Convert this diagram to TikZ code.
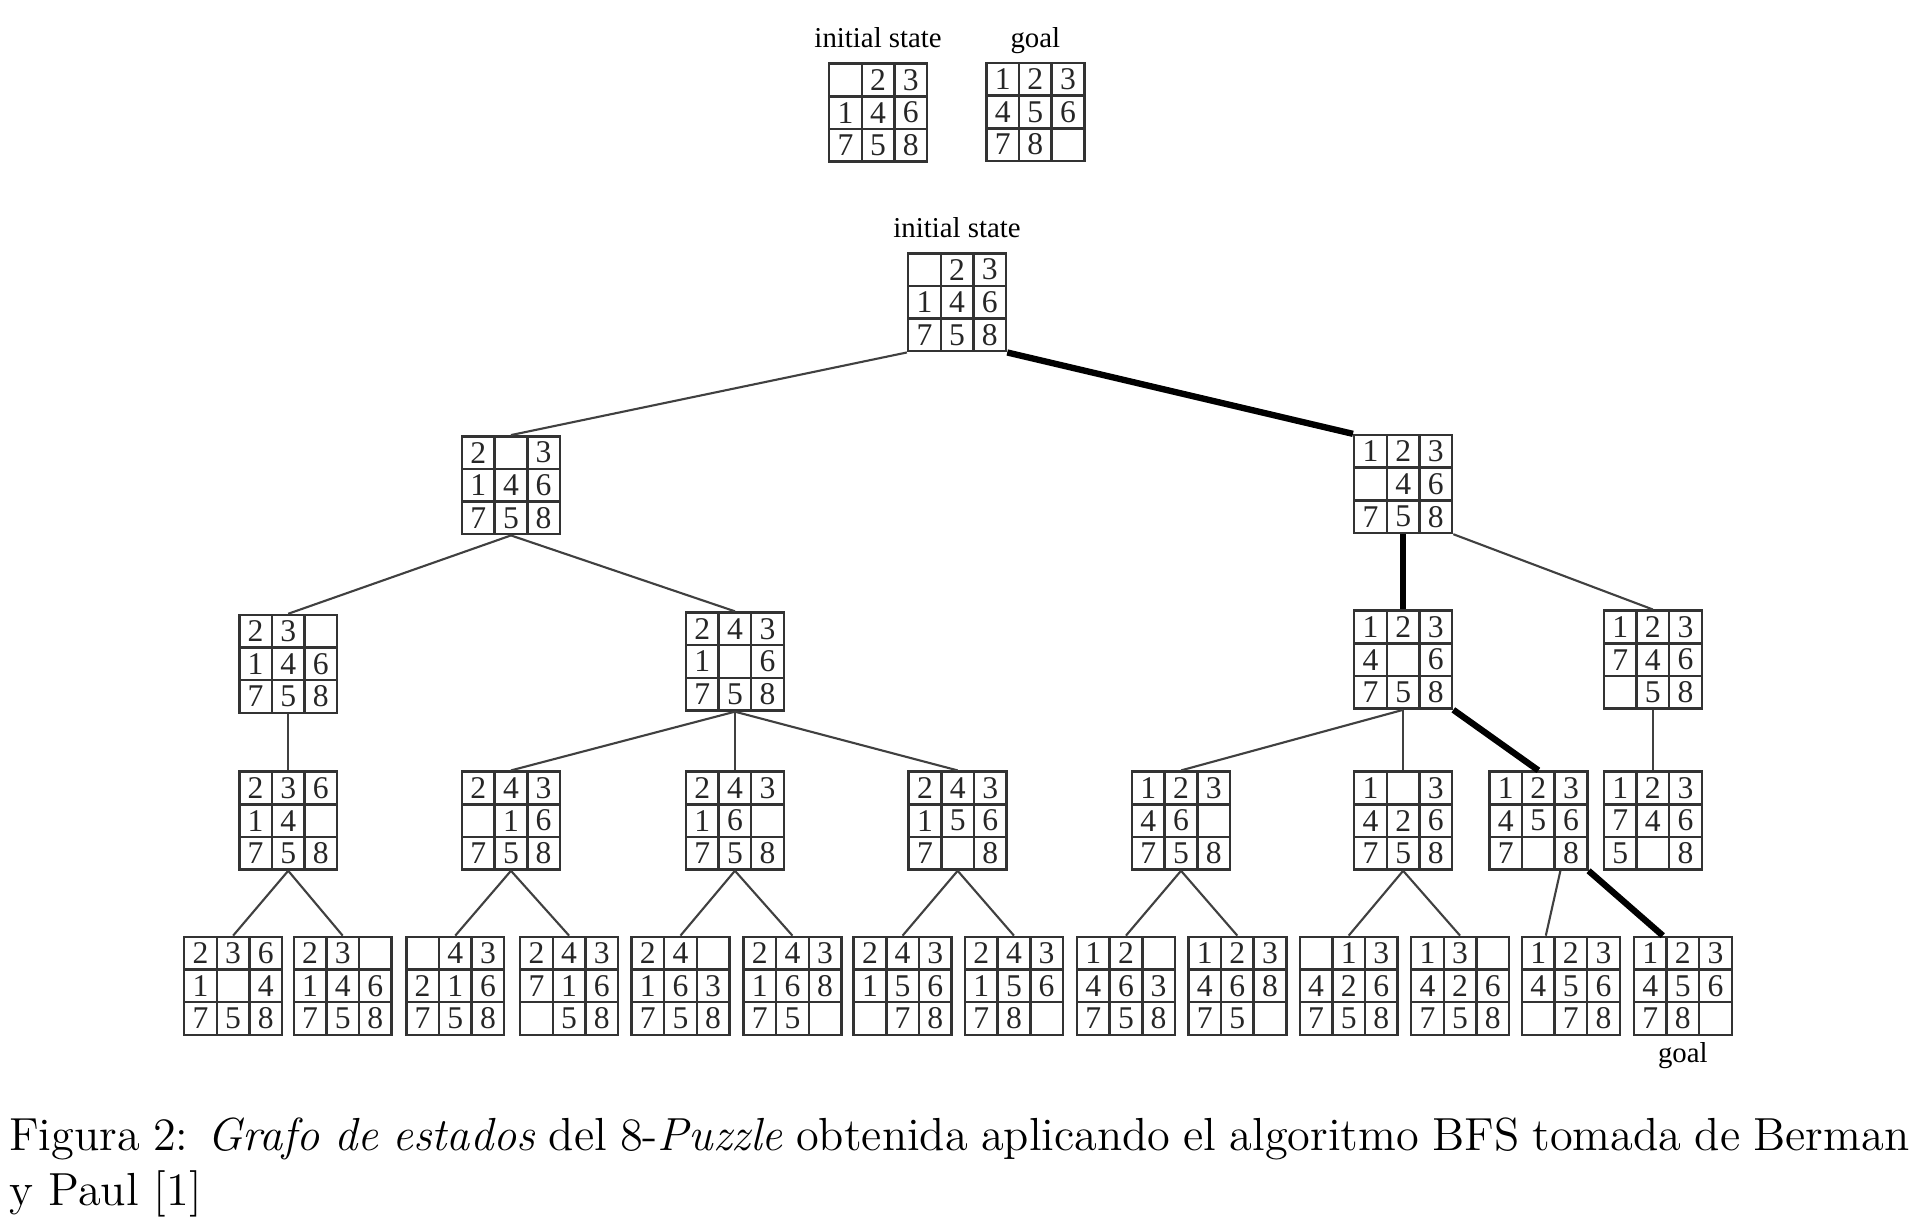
\documentclass[tikz,border=0pt]{standalone}
\usepackage{fontspec}
\usetikzlibrary{positioning}
\newfontfamily\puzzlefont{Liberation Serif}

\tikzset{
  board/.style={draw=black!80, line width=0.7pt, minimum size=9.79mm, inner sep=0pt},
  tile/.style={font=\puzzlefont\fontsize{9}{9}\selectfont, text=black!85, inner sep=0pt},
  link/.style={black!75, line width=0.6pt},
  solution/.style={black, line width=1.8pt},
  statelabel/.style={font=\puzzlefont\fontsize{8.2}{9}\selectfont, inner sep=0pt},
  captiontext/.style={font=\fontsize{13.2}{15.6}\selectfont, inner sep=0pt, anchor=base west}
}

% one 8-puzzle board: name, centre, the nine tiles row by row
\newcommand{\puzzleboard}[3]{%
  \node[board] (#1) at (#2) {};
  \begin{scope}[shift={(#1.center)}]
    \draw[black!80, line width=0.7pt] (-13.33,-40) -- (-13.33,40) (13.33,-40) -- (13.33,40)
      (-40,-13.33) -- (40,-13.33) (-40,13.33) -- (40,13.33);
    \foreach \t [count=\k from 0] in {#3}
      \node[tile] at ({(mod(\k,3)-1)*26.67},{(div(\k,3)-1)*26.67}) {\t};
  \end{scope}}

\begin{document}
\begin{tikzpicture}[x=0.12239mm, y=-0.12239mm]
    \useasboundingbox (0,0) rectangle (1568,1003);

    % initial state and goal
    \puzzleboard{I0}{717.5,92}{{},2,3,1,4,6,7,5,8}
    \puzzleboard{G0}{846,91.5}{1,2,3,4,5,6,7,8,{}}
    \node[statelabel, above=1.4mm of I0] (I0label) {initial state};
    \node[statelabel, anchor=base] (G0label) at (I0label.base -| G0.center) {goal};

    % root
    \puzzleboard{S}{782,247}{{},2,3,1,4,6,7,5,8}
    \node[statelabel, above=1.4mm of S] (Slabel) {initial state};

    % level 1
    \puzzleboard{S1}{417.5,396.5}{2,{},3,1,4,6,7,5,8}
    \puzzleboard{S2}{1146.5,395.5}{1,2,3,{},4,6,7,5,8}

    % level 2
    \puzzleboard{S11}{235.5,542.5}{2,3,{},1,4,6,7,5,8}
    \puzzleboard{S12}{600.5,540.5}{2,4,3,1,{},6,7,5,8}
    \puzzleboard{S21}{1146.5,539}{1,2,3,4,{},6,7,5,8}
    \puzzleboard{S22}{1350.5,539}{1,2,3,7,4,6,{},5,8}

    % level 3
    \puzzleboard{S111}{235.5,670.5}{2,3,6,1,4,{},7,5,8}
    \puzzleboard{S121}{417.5,670.5}{2,4,3,{},1,6,7,5,8}
    \puzzleboard{S122}{600.5,670.5}{2,4,3,1,6,{},7,5,8}
    \puzzleboard{S123}{782.5,670.5}{2,4,3,1,5,6,7,{},8}
    \puzzleboard{S211}{965,670.5}{1,2,3,4,6,{},7,5,8}
    \puzzleboard{S212}{1146.5,670.5}{1,{},3,4,2,6,7,5,8}
    \puzzleboard{S213}{1257,670.5}{1,2,3,4,5,6,7,{},8}
    \puzzleboard{S221}{1350.5,670.5}{1,2,3,7,4,6,5,{},8}

    % level 4
    \puzzleboard{S1111}{190.5,805.5}{2,3,6,1,{},4,7,5,8}
    \puzzleboard{S1112}{280,805.5}{2,3,{},1,4,6,7,5,8}
    \puzzleboard{S1211}{372,805.5}{{},4,3,2,1,6,7,5,8}
    \puzzleboard{S1212}{465,805.5}{2,4,3,7,1,6,{},5,8}
    \puzzleboard{S1221}{556,805.5}{2,4,{},1,6,3,7,5,8}
    \puzzleboard{S1222}{647.5,805.5}{2,4,3,1,6,8,7,5,{}}
    \puzzleboard{S1231}{737.5,805.5}{2,4,3,1,5,6,{},7,8}
    \puzzleboard{S1232}{828.5,805.5}{2,4,3,1,5,6,7,8,{}}
    \puzzleboard{S2111}{920,805.5}{1,2,{},4,6,3,7,5,8}
    \puzzleboard{S2112}{1011,805.5}{1,2,3,4,6,8,7,5,{}}
    \puzzleboard{S2121}{1102,805.5}{{},1,3,4,2,6,7,5,8}
    \puzzleboard{S2122}{1193,805.5}{1,3,{},4,2,6,7,5,8}
    \puzzleboard{S2131}{1283.5,805.5}{1,2,3,4,5,6,{},7,8}
    \puzzleboard{S2132}{1375,805.5}{1,2,3,4,5,6,7,8,{}}
    \node[statelabel, below=0.6mm of S2132] (S2132label) {goal};

    % edges of the search tree
    \draw[link] (S.south west) -- (S1.north);
    \draw[link] (S1.south) -- (S11.north);
    \draw[link] (S1.south) -- (S12.north);
    \draw[link] (S2.south east) -- (S22.north);
    \draw[link] (S11.south) -- (S111.north);
    \draw[link] (S12.south) -- (S121.north);
    \draw[link] (S12.south) -- (S122.north);
    \draw[link] (S12.south) -- (S123.north);
    \draw[link] (S21.south) -- (S211.north);
    \draw[link] (S21.south) -- (S212.north);
    \draw[link] (S22.south) -- (S221.north);
    \draw[link] (S111.south) -- (S1111.north);
    \draw[link] (S111.south) -- (S1112.north);
    \draw[link] (S121.south) -- (S1211.north);
    \draw[link] (S121.south) -- (S1212.north);
    \draw[link] (S122.south) -- (S1221.north);
    \draw[link] (S122.south) -- (S1222.north);
    \draw[link] (S123.south) -- (S1231.north);
    \draw[link] (S123.south) -- (S1232.north);
    \draw[link] (S211.south) -- (S2111.north);
    \draw[link] (S211.south) -- (S2112.north);
    \draw[link] (S212.south) -- (S2121.north);
    \draw[link] (S212.south) -- (S2122.north);
    \draw[link] ([xshift=2.2mm]S213.south) -- ([xshift=-2.5mm]S2131.north);

    % path to the goal
    \draw[solution] (S.south east) -- (S2.north west);
    \draw[solution] (S2.south) -- (S21.north);
    \draw[solution] (S21.south east) -- (S213.north);
    \draw[solution] (S213.south east) -- ([xshift=-2mm]S2132.north);

    % caption
    \node[captiontext] (cap1) at (7,940) {\makebox[190mm][s]{Figura 2: \textit{Grafo de estados} del 8-\textit{Puzzle} obtenida aplicando el algoritmo BFS tomada de Berman}};
    \node[captiontext] (cap2) at (7,985) {y Paul [1]};
\end{tikzpicture}
\end{document}
